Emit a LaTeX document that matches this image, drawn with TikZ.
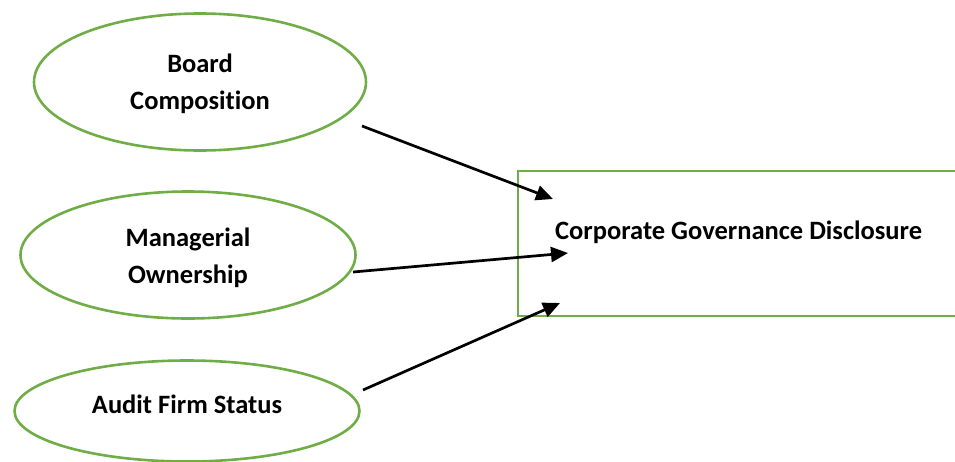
\documentclass[tikz,border=0pt]{standalone}
\usepackage{fontspec}
\setmainfont{Carlito}[Ligatures=NoCommon]
\usetikzlibrary{arrows.meta,shapes.geometric}
\definecolor{grn}{HTML}{70AD47}
\begin{document}
\begin{tikzpicture}[x=1pt,y=-1pt,
  oval/.style={draw=grn,line width=2.6pt,ellipse,inner sep=0pt},
  lbl/.style={font=\bfseries\fontsize{26.5}{37}\selectfont,align=center,inner sep=0pt},
  conn/.style={line width=2.7pt,-{Triangle[length=17pt,width=15pt]}}]
\useasboundingbox (0,0) rectangle (955,461);
\clip (0,0) rectangle (955,461);
\node[oval,minimum width=332,minimum height=137] (e1) at (200,82) {};
\node[lbl] (t1) at (200,84) {Board\\Composition};
\node[oval,minimum width=335,minimum height=127] (e2) at (188,255) {};
\node[lbl] (t2) at (188,258) {Managerial\\Ownership};
\node[oval,minimum width=345,minimum height=101] (e3) at (187,411) {};
\node[lbl] (t3) at (187,404) {Audit Firm Status};
\node[draw=grn,line width=2.6pt,minimum width=472,minimum height=145,inner sep=0pt] (box) at (754,243.5) {};
\node[lbl,anchor=west] (t4) at (555,232) {Corporate Governance Disclosure};
\coordinate (s1) at (362,126);
\coordinate (d1) at (553,199);
\coordinate (s2) at (353,272);
\coordinate (d2) at (568,253);
\coordinate (s3) at (363,390);
\coordinate (d3) at (560,303);
\draw[conn] (s1) -- (d1);
\draw[conn] (s2) -- (d2);
\draw[conn] (s3) -- (d3);
\end{tikzpicture}
\end{document}
